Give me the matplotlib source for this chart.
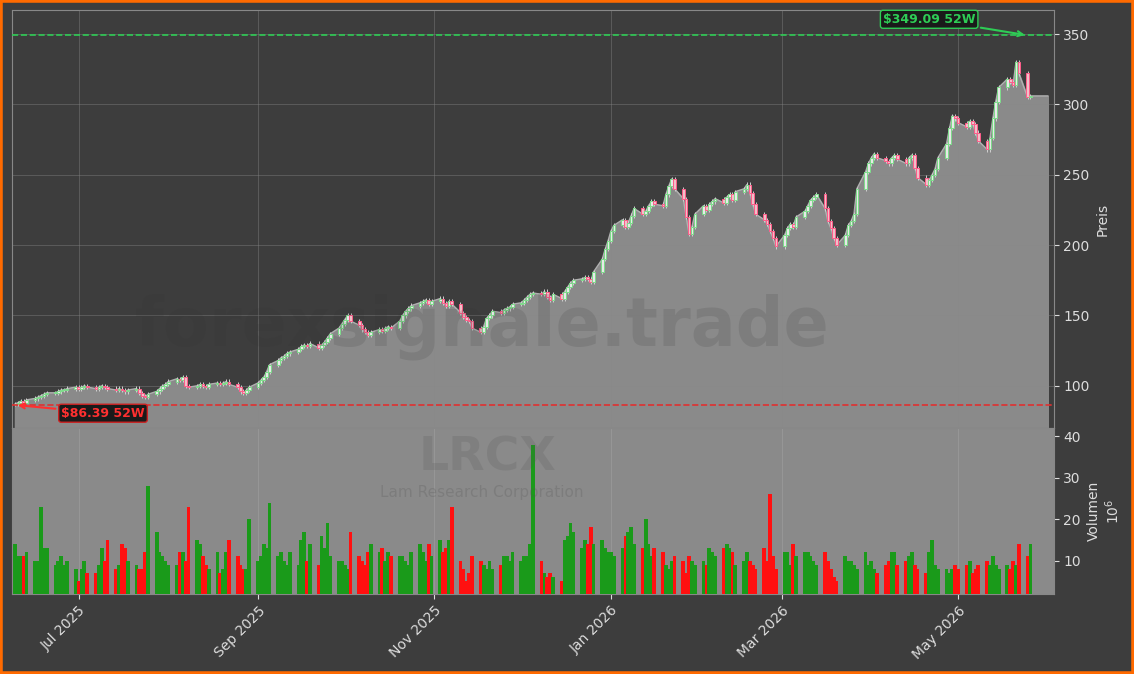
import matplotlib
matplotlib.use("Agg")
import matplotlib.pyplot as plt
import matplotlib.dates as mdates
import numpy as np
import pandas as pd

dates = pd.bdate_range("2025-06-09", periods=252)
closes = [87,88,89,88,90,91,92,93,94,95,95,96,97,97,98,99,98,99,100,99,98,99,100,99,98,97,
          98,97,96,97,98,95,93,92,94,96,98,100,101,103,105,
          104,106,100,99,100,101,100,99,101,102,101,102,103,101,99,
          96,95,97,99,102,104,106,110,115,118,120,121,123,124,126,
          128,129,128,130,127,129,131,134,137,141,144,147,150,146,143,
          140,138,136,138,140,139,141,142,141,146,150,153,155,157,159,
          160,161,158,160,162,159,157,160,158,152,149,147,146,141,138,
          142,148,150,153,152,154,155,156,158,159,161,163,165,166,165,
          167,163,161,165,162,167,170,173,175,176,177,176,174,181,190,
          197,203,210,214,218,213,216,221,226,222,224,228,231,229,228,
          236,242,247,240,233,220,208,213,222,228,225,229,231,233,230,
          234,236,232,238,240,243,237,229,222,218,215,210,205,199,207,
          212,215,213,220,224,228,232,234,236,226,217,212,205,200,207,
          214,217,222,240,252,258,262,265,262,260,258,262,264,261,258,
          262,264,255,248,243,246,250,254,262,272,283,292,290,287,284,
          288,286,280,274,268,276,290,302,312,318,316,314,330,322,305,306]
volumes = [14,11,11,11,12,10,10,23,13,13,9,10,11,9,10,8,5,8,10,7,7,9,13,10,15,8,
           9,14,13,10,9,8,8,12,28,17,12,11,10,9,9,
           12,12,10,23,15,14,11,9,8,12,7,8,12,15,11,
           9,8,8,20,10,11,14,13,24,11,12,10,9,12,9,
           15,17,10,14,9,16,13,19,11,10,10,9,8,17,11,
           10,9,12,14,12,13,10,12,11,11,11,10,9,12,14,
           12,10,14,11,15,12,13,15,23,10,8,5,7,11,10,
           9,8,10,8,9,11,11,10,12,10,11,11,14,38,10,
           7,6,7,6,5,15,16,19,17,13,15,14,18,14,15,
           13,12,12,11,13,16,17,18,14,13,20,14,11,13,12,
           9,8,10,11,10,7,11,10,9,10,9,13,12,11,13,
           14,13,12,9,10,12,10,9,8,13,10,26,11,8,12,
           12,9,14,11,12,12,11,10,9,12,10,8,6,5,11,
           10,10,9,8,12,9,10,8,7,9,10,12,12,9,10,
           11,12,9,8,7,12,15,9,8,8,7,8,9,8,9,
           10,7,8,9,10,9,11,9,8,9,8,10,9,14,11,14]
low52, high52 = 86.39, 349.09
title_ticker = "LRCX"
company = "Lam Research Corporation"

opens = [closes[0]] + closes[:-1]
BG = "#3d3d3d"
fig = plt.figure(figsize=(11.34, 6.74), dpi=100, facecolor=BG)
fig.patches.append(plt.Rectangle((0, 0), 1, 1, transform=fig.transFigure, fill=False,
                                 edgecolor="#ff6a00", linewidth=4))
ax = fig.add_axes([0.0106, 0.365, 0.9185, 0.62], facecolor=BG)
axv = fig.add_axes([0.0106, 0.119, 0.9185, 0.246], facecolor="#8a8a8a", sharex=ax)

x = mdates.date2num(dates)
xf = np.append(x, x[-1] + 6)
cf = closes + [closes[-1]]
ax.fill_between(xf, cf, 70, color="#8a8a8a", zorder=1)
ax.plot(xf, cf, color="#b0b0b0", lw=1, zorder=2)
w = 0.9
for xi, o, c in zip(x, opens, closes):
    up = c >= o
    col = "#7ddc8a" if up else "#ff5c8a"
    ax.vlines(xi, min(o, c) - 1.5, max(o, c) + 1.5, color="#d0d0d0", lw=0.7, zorder=3)
    ax.bar(xi, max(abs(c - o), 0.4), bottom=min(o, c), width=w, color="#e8e8e8" if up else "#f0c0c8",
           edgecolor=col, linewidth=0.7, zorder=4)
ax.axhline(high52, color="#2ecc55", ls="--", lw=1.2, zorder=5)
ax.axhline(low52, color="#e03030", ls="--", lw=1.2, zorder=5)
ax.annotate(f"${low52:.2f} 52W", xy=(x[0], low52), xytext=(x[0] + 16, 78),
            color="#ff3030", fontsize=9, fontweight="bold", zorder=6,
            bbox=dict(boxstyle="round,pad=0.2", fc="#1a1a1a", ec="#cc2222"),
            arrowprops=dict(arrowstyle="->", color="#ff3030", lw=1.5))
ax.annotate(f"${high52:.2f} 52W", xy=(x[-2], high52), xytext=(x[-2] - 50, 358),
            color="#2ecc55", fontsize=9, fontweight="bold", zorder=6,
            bbox=dict(boxstyle="round,pad=0.2", fc="#1a1a1a", ec="#2ecc55"),
            arrowprops=dict(arrowstyle="->", color="#2ecc55", lw=1.5))
ax.set_ylim(70, 367)
ax.set_xlim(x[0] - 1, x[-1] + 8)
ax.yaxis.tick_right(); ax.yaxis.set_label_position("right")
ax.set_ylabel("Preis", color="#dddddd")
ax.tick_params(colors="#dddddd", labelbottom=False)
ax.grid(True, color="#888888", alpha=0.4, lw=0.7)
for s in ax.spines.values(): s.set_color("#888888")

vcol = ["#1a9a1a" if c >= o else "#ff1010" for o, c in zip(opens, closes)]
axv.bar(x, volumes, width=1.3, color=vcol, zorder=3)
axv.set_ylim(2, 42)
axv.set_yticks([10, 20, 30, 40])
axv.yaxis.tick_right(); axv.yaxis.set_label_position("right")
axv.set_ylabel("Volumen\n$10^6$", color="#dddddd")
axv.tick_params(colors="#dddddd")
axv.xaxis.set_major_locator(mdates.MonthLocator(bymonth=[1, 3, 5, 7, 9, 11]))
axv.xaxis.set_major_formatter(mdates.DateFormatter("%b %Y"))
plt.setp(axv.get_xticklabels(), rotation=45, ha="right", rotation_mode="anchor")
axv.grid(True, axis="x", color="#aaaaaa", alpha=0.4, lw=0.7)
for s in axv.spines.values(): s.set_color("#888888")

fig.text(0.425, 0.515, "forexsignale.trade", fontsize=48, fontweight="bold", color="#333333",
         alpha=0.15, ha="center", va="center")
fig.text(0.43, 0.32, title_ticker, fontsize=34, fontweight="bold", color="#555555",
         alpha=0.2, ha="center", va="center")
fig.text(0.425, 0.27, company, fontsize=11, color="#555555", alpha=0.25, ha="center", va="center")
fig.savefig("out.png", dpi=100, facecolor=BG)
